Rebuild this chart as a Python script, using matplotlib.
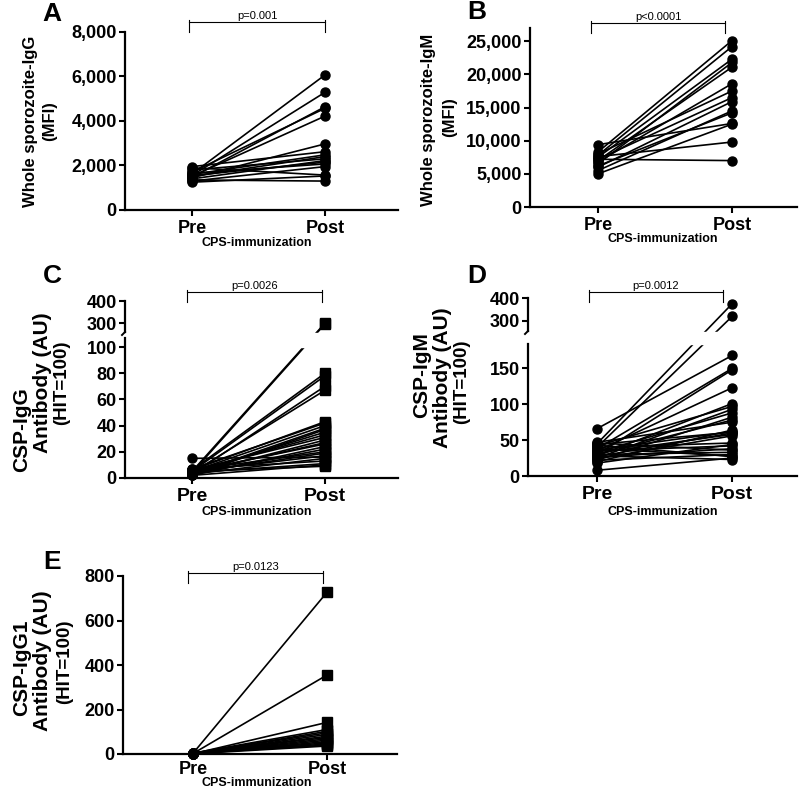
import numpy as np
import matplotlib
matplotlib.use("Agg")
import matplotlib.pyplot as plt
from matplotlib.ticker import StrMethodFormatter

plt.rcParams['font.family'] = ['Liberation Sans', 'DejaVu Sans']
plt.rcParams['font.weight'] = 'bold'

# ---- data ----
groups = ["Pre", "Post"]

pre_A = [1620, 1550, 1480, 1700, 1520, 1450, 1950, 1600, 1500, 1800, 1400, 1550, 1650, 1300, 1900, 1250, 1350]
post_A = [6070, 5290, 4640, 4570, 4220, 2970, 2620, 2480, 2400, 2300, 2220, 2150, 2070, 1950, 1570, 1530, 1300]

pre_B = [8300, 7800, 7500, 6500, 7000, 6800, 8000, 7200, 6000, 5500, 6200, 9400, 5000, 7600, 7200]
post_B = [25100, 24200, 22300, 21800, 21100, 18600, 17500, 16500, 15900, 14500, 14200, 12600, 12500, 9800, 7000]

pre_C = [5, 4, 6, 5, 3, 4, 6, 7, 5, 3, 2, 4, 5, 6, 3, 4, 5, 2, 3, 6, 4, 5, 3, 7, 4, 2, 15, 5]
post_C = [300, 296, 80, 78, 70, 67, 43, 42, 40, 38, 37, 35, 33, 31, 29, 27, 26, 24, 22, 20, 19, 17, 15, 13, 11, 10, 16, 9]

pre_D = [45, 40, 66, 38, 30, 35, 28, 42, 25, 33, 22, 30, 47, 20, 36, 44, 27, 32, 24, 40, 18, 35, 26, 46, 30, 22, 38, 8, 28, 43]
post_D = [375, 320, 168, 150, 148, 123, 101, 97, 93, 88, 82, 78, 75, 64, 62, 61, 60, 58, 56, 46, 44, 42, 38, 36, 33, 30, 28, 25, 23, 27]

pre_E = [3, 2, 1, 4, 2, 3, 1, 2, 5, 3, 2, 1, 4, 2, 3, 1]
post_E = [727, 355, 142, 110, 102, 95, 88, 80, 74, 68, 62, 56, 50, 45, 40, 36]

pvals = ["p=0.001", "p<0.0001", "p=0.0026", "p=0.0012", "p=0.0123"]

W, H = 800, 793
fig = plt.figure(figsize=(W / 100, H / 100), dpi=100)


def rect(left, right, top, bottom):
    return [left / W, 1 - bottom / H, (right - left) / W, (bottom - top) / H]


def broken(data_bp, t_bp):
    def fwd(y):
        return np.interp(y, data_bp, t_bp)

    def inv(t):
        return np.interp(t, t_bp, data_bp)
    return fwd, inv


def pairs(ax, pre, post, m_pre, m_post, ms=6.5):
    for a, b in zip(pre, post):
        ax.plot([0, 1], [a, b], color='k', lw=1.2, zorder=2, clip_on=False)
    ax.plot(np.zeros(len(pre)), pre, m_pre, color='k', ms=ms, zorder=4, clip_on=False)
    ax.plot(np.ones(len(post)), post, m_post, color='k', ms=ms, zorder=4, clip_on=False)


def style(ax, xlim, tsize=13, pad=3):
    ax.set_xlim(*xlim)
    ax.set_xticks([0, 1])
    ax.set_xticklabels(groups, fontsize=tsize, fontweight='bold')
    ax.spines['top'].set_visible(False)
    ax.spines['right'].set_visible(False)
    for s in ['left', 'bottom']:
        ax.spines[s].set_linewidth(1.6)
    ax.tick_params(axis='both', width=1.5, length=4, direction='out')
    ax.tick_params(axis='x', pad=pad)
    ax.tick_params(axis='y', labelsize=13, pad=2)
    for lab in ax.get_yticklabels():
        lab.set_fontweight('bold')


def split_spine(ax, inv, t_lo, t_hi, top):
    # left spine drawn in two pieces around the break, with a small hook
    ax.spines['left'].set_visible(False)
    tr = ax.get_yaxis_transform()
    wpx = ax.get_position().width * W
    ax.plot([0, 0], [0, inv(t_lo)], color='k', lw=1.6, transform=tr, clip_on=False, zorder=5)
    ax.plot([0, 0], [inv(t_hi), top], color='k', lw=1.6, transform=tr, clip_on=False, zorder=5)
    ax.plot([0, -3 / wpx], [inv(t_hi), inv(t_hi - 3)], color='k', lw=1.4,
            transform=tr, clip_on=False, zorder=5)


def bracket(ax, x0, x1, above_px, text):
    hpx = ax.get_position().height * H
    y = 1 + above_px / hpx
    tr = ax.get_xaxis_transform()
    ax.plot([x0, x1], [y, y], color='k', lw=0.8, transform=tr, clip_on=False)
    for xx in (x0, x1):
        ax.plot([xx, xx], [y + 2 / hpx, y - 10 / hpx], color='k', lw=0.8,
                transform=tr, clip_on=False)
    ax.text((x0 + x1) / 2, y + 1 / hpx, text, transform=tr, ha='center',
            va='bottom', fontsize=8, fontweight='normal')


def ftext(x, y, s, size, rot=0, weight='bold', family=None):
    kw = {}
    if family:
        kw['family'] = family
    fig.text(x / W, 1 - y / H, s, rotation=rot, ha='center', va='center',
             fontsize=size, fontweight=weight, **kw)


# ---- A ----
axA = fig.add_axes(rect(125, 398, 32, 210))
pairs(axA, pre_A, post_A, 'o', 'o')
axA.set_ylim(0, 8000)
axA.set_yticks([0, 2000, 4000, 6000, 8000])
axA.yaxis.set_major_formatter(StrMethodFormatter('{x:,.0f}'))
style(axA, (-0.504, 1.549))
bracket(axA, -0.02, 1.0, 10, pvals[0])

# ---- B ----
axB = fig.add_axes(rect(530, 797, 28, 207))
pairs(axB, pre_B, post_B, 'o', 'o')
axB.set_ylim(0, 27000)
axB.set_yticks([0, 5000, 10000, 15000, 20000, 25000])
axB.yaxis.set_major_formatter(StrMethodFormatter('{x:,.0f}'))
style(axB, (-0.507, 1.485))
bracket(axB, -0.05, 0.95, 5, pvals[1])

# ---- C (broken axis) ----
axC = fig.add_axes(rect(125, 398, 301, 478))
fC, iC = broken([-1000, 0, 100, 255, 400, 10000], [-1310, 0, 131, 145, 177, 2289])
axC.set_yscale('function', functions=(fC, iC))
pairs(axC, pre_C, post_C, 'o', 's')
axC.set_ylim(0, 400)
axC.set_yticks([0, 20, 40, 60, 80, 100, 300, 400])
axC.axhspan(100, 255, color='white', zorder=3)
style(axC, (-0.504, 1.549), tsize=14, pad=3)
split_spine(axC, iC, 140, 146, 400)
bracket(axC, -0.04, 0.98, 9, pvals[2])

# ---- D (broken axis) ----
axD = fig.add_axes(rect(528, 797, 298, 476))
fD, iD = broken([-1000, 0, 184, 252, 400, 10000], [-720, 0, 132, 144, 178, 2418])
axD.set_yscale('function', functions=(fD, iD))
pairs(axD, pre_D, post_D, 'o', 'o')
axD.set_ylim(0, 400)
axD.set_yticks([0, 50, 100, 150, 300, 400])
axD.axhspan(184, 252, color='white', zorder=3)
style(axD, (-0.511, 1.48), tsize=14, pad=3)
split_spine(axD, iD, 132, 145, 400)
bracket(axD, -0.06, 0.93, 6, pvals[3])

# ---- E ----
axE = fig.add_axes(rect(123, 397, 576, 754))
pairs(axE, pre_E, post_E, 'o', 's')
axE.set_ylim(0, 800)
axE.set_yticks([0, 200, 400, 600, 800])
style(axE, (-0.522, 1.522), pad=1)
bracket(axE, -0.04, 0.97, 3, pvals[4])

# ---- panel letters ----
for s, x, y in [("A", 52, 14), ("B", 477, 12), ("C", 52, 276), ("D", 477, 276), ("E", 52, 562)]:
    ftext(x, y, s, 19)

# ---- axis titles ----
ftext(31, 121, "Whole sporozoite-IgG", 12, rot=90)
ftext(50, 121, "(MFI)", 12, rot=90)
ftext(429, 120, "Whole sporozoite-IgM", 12, rot=90)
ftext(450, 117, "(MFI)", 12, rot=90)

narrow = ['Liberation Sans Narrow', 'Liberation Sans', 'DejaVu Sans']

ftext(22, 430, "CSP-IgG", 15, rot=90)
ftext(42, 383, "Antibody (AU)", 15, rot=90)
ftext(62, 383, "(HIT=100)", 13.5, rot=90, family=narrow)

ftext(422, 375, "CSP-IgM", 15, rot=90)
ftext(443, 378, "Antibody (AU)", 15, rot=90)
ftext(462, 382, "(HIT=100)", 13.5, rot=90, family=narrow)

ftext(22, 668, "CSP-IgG1", 15, rot=90)
ftext(42, 661, "Antibody (AU)", 15, rot=90)
ftext(65, 662, "(HIT=100)", 13.5, rot=90, family=narrow)

for x, y in [(257, 243), (663, 239), (257, 512), (663, 512), (257, 783)]:
    ftext(x, y, "CPS-immunization", 9)

fig.savefig("out.png", dpi=100)
